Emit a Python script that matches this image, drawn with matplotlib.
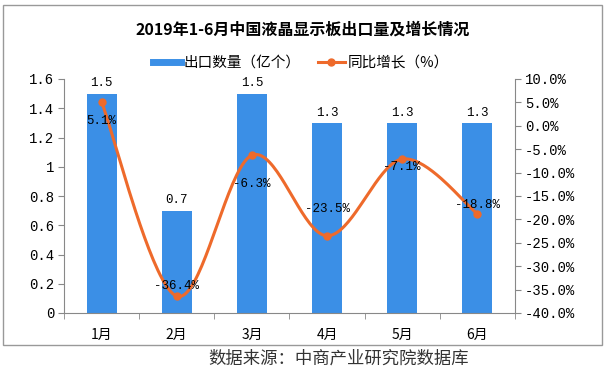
import matplotlib
matplotlib.use("Agg")
import matplotlib.pyplot as plt
import numpy as np
from matplotlib.patches import Rectangle
from matplotlib.lines import Line2D

plt.rcParams['font.family'] = ['Noto Sans CJK SC', 'DejaVu Sans']

months = ["1月", "2月", "3月", "4月", "5月", "6月"]
export_qty = [1.5, 0.7, 1.5, 1.3, 1.3, 1.3]
yoy_growth = [5.1, -36.4, -6.3, -23.5, -7.1, -18.8]
left_ticks = [0, 0.2, 0.4, 0.6, 0.8, 1.0, 1.2, 1.4, 1.6]
right_ticks = [10, 5, 0, -5, -10, -15, -20, -25, -30, -35, -40]

title = "2019年1-6月中国液晶显示板出口量及增长情况"
bar_label = "出口数量（亿个）"
line_label = "同比增长（%）"
source = "数据来源：中商产业研究院数据库"

BAR_C = "#3b8fe6"
LINE_C = "#ee6a2b"
NUM_FONT = ['Liberation Mono', 'DejaVu Sans Mono']

fig = plt.figure(figsize=(6.05, 3.78), dpi=100)
fig.patch.set_facecolor("white")

# outer frame
fig.add_artist(Rectangle((3/605, 1-345/378), 599/605, (345-5)/378,
                         transform=fig.transFigure, fill=False,
                         edgecolor="#999999", linewidth=1.0))

ax = fig.add_axes([64/605, 1-313/378, (515-64)/605, (313-79)/378])
x = np.arange(len(months))
bars = ax.bar(x, export_qty, width=0.4, color=BAR_C, zorder=2)
ax.set_xlim(-0.5, len(months)-0.5)
ax.set_ylim(0, 1.6)
ax.set_yticks(left_ticks)
ax.set_yticklabels([f"{v:g}" for v in left_ticks], family=NUM_FONT, fontsize=10)
ax.set_xticks(x)
ax.set_xticklabels(months, fontsize=10)
ax.tick_params(axis='x', length=0, pad=11)
ax.set_xticks(np.arange(-0.5, len(months)), minor=True)
ax.tick_params(axis='x', which='minor', length=4, color="#888888")
ax.tick_params(axis='y', length=4, color="#888888", pad=3)
for s in ["top", "right"]:
    ax.spines[s].set_visible(False)
for s in ["left", "bottom"]:
    ax.spines[s].set_color("#888888")

for xi, v in zip(x, export_qty):
    ax.annotate(f"{v:g}", (xi, v), xytext=(0, 3), textcoords="offset points",
                ha="center", va="bottom", fontsize=9, family=NUM_FONT)

ax2 = ax.twinx()
ax2.set_ylim(-40, 10)
ax2.set_yticks(right_ticks)
ax2.set_yticklabels([f"{v:.1f}%" for v in right_ticks], family=NUM_FONT, fontsize=10)
ax2.tick_params(axis='y', length=4, color="#888888", pad=3)
for s in ["top", "left", "bottom"]:
    ax2.spines[s].set_visible(False)
ax2.spines["right"].set_color("#888888")

# smooth (Catmull-Rom / Bezier) curve through the points, as Excel's smoothed line
px = x.astype(float)
py = np.array(yoy_growth, dtype=float)
P = np.column_stack([px, py])
Pext = np.vstack([P[0], P, P[-1]])
curve = []
t = np.linspace(0, 1, 40)
for i in range(len(P)-1):
    p0, p1, p2, p3 = Pext[i], Pext[i+1], Pext[i+2], Pext[i+3]
    c1 = p1 + (p2 - p0) / 6
    c2 = p2 - (p3 - p1) / 6
    seg = ((1-t)**3)[:, None]*p1 + (3*(1-t)**2*t)[:, None]*c1 + \
          (3*(1-t)*t**2)[:, None]*c2 + (t**3)[:, None]*p2
    curve.append(seg)
curve = np.vstack(curve)
ax2.plot(curve[:, 0], curve[:, 1], color=LINE_C, linewidth=2.2, zorder=3)
ax2.plot(px, py, "o", color=LINE_C, markersize=5, zorder=4)

label_offsets = [-14, 7, -21, 19, -6, 6]
for xi, v, off in zip(px, py, label_offsets):
    ax2.annotate(f"{v:.1f}%", (xi, v), xytext=(0, off), textcoords="offset points",
                 ha="center", va="center", fontsize=9, family=NUM_FONT, zorder=5)

fig.text(0.5, 1-30/378, title, ha="center", va="center", fontsize=11.5,
         fontweight="bold")

handles = [Line2D([0], [0], color=BAR_C, linewidth=5),
           Line2D([0], [0], color=LINE_C, linewidth=2.2, marker="o", markersize=5)]
fig.legend(handles, [bar_label, line_label], loc="center",
           bbox_to_anchor=(301/605, 1-63/378), ncol=2, frameon=False,
           fontsize=10.5, handlelength=1.9, columnspacing=1.2, handletextpad=0.15,
           borderpad=0, borderaxespad=0)

fig.text(339/605, 1-359/378, source, ha="center", va="center", fontsize=12.5,
         color="#333333")

fig.savefig("out.png", dpi=100)
